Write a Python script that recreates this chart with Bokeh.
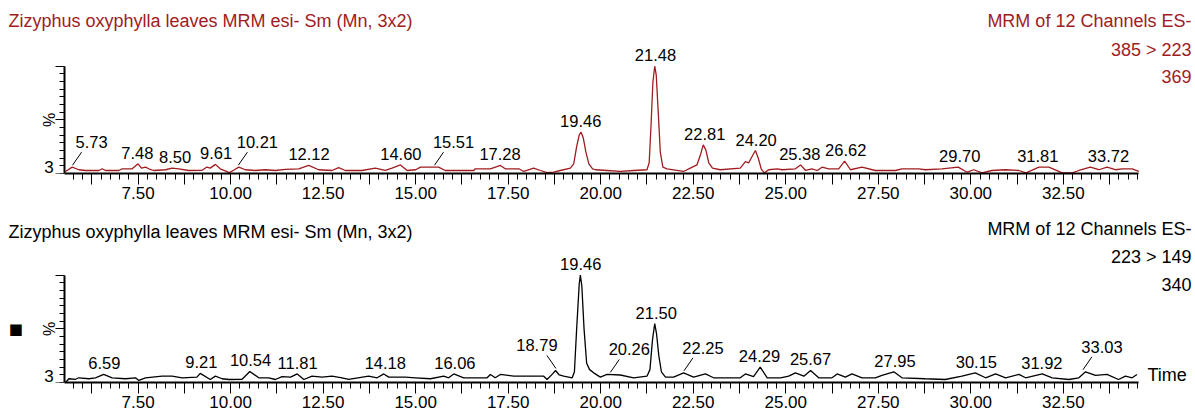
import math
import numpy as np
from bokeh.plotting import figure
from bokeh.models import (Range1d, FixedTicker, CustomJSTickFormatter, Label,
                          LabelSet, ColumnDataSource)
from bokeh.layouts import column
from bokeh.core.properties import value
from bokeh.embed import file_html
from bokeh.resources import INLINE

# ---------------- data ----------------
top_time = [5.54, 5.72, 5.90, 6.08, 6.44, 6.53, 6.62, 6.98, 7.07, 7.34, 7.50, 7.59, 7.70, 7.79, 7.92,
            8.24, 8.42, 8.60, 8.87, 9.23, 9.36, 9.45, 9.59, 9.72, 9.97, 10.08, 10.22, 10.40, 10.67,
            10.94, 11.21, 11.48, 11.84, 12.11, 12.38, 12.74, 12.92, 13.10, 13.55, 13.91, 14.18, 14.36,
            14.59, 14.77, 15.00, 15.13, 15.62, 15.80, 16.57, 16.61, 17.02, 17.29, 17.42, 17.79, 17.92,
            18.19, 18.37, 18.55, 18.73, 18.91, 19.18, 19.27, 19.35, 19.42, 19.47, 19.53, 19.60, 19.68,
            19.78, 19.86, 20.17, 20.53, 20.89, 21.25, 21.31, 21.36, 21.41, 21.46, 21.50, 21.55, 21.61,
            21.68, 21.79, 22.24, 22.42, 22.60, 22.70, 22.77, 22.84, 22.92, 23.02, 23.23, 23.77, 23.91,
            24.00, 24.06, 24.18, 24.26, 24.34, 24.42, 24.54, 24.77, 24.90, 25.26, 25.40, 25.53, 25.71,
            25.85, 25.98, 26.16, 26.43, 26.59, 26.75, 27.06, 27.42, 27.96, 28.14, 28.59, 28.77, 29.22,
            29.66, 29.90, 30.08, 30.30, 30.57, 30.93, 31.30, 31.49, 31.84, 32.11, 32.47, 32.74, 32.92,
            33.23, 33.46, 33.68, 33.91, 34.09, 34.36, 34.54]
top_pct = [1.9, 5.9, 3.5, 2.8, 2.8, 4.4, 2.8, 2.8, 4.4, 4.4, 9.0, 5.0, 5.9, 4.4, 2.8,
           3.5, 5.0, 4.4, 2.8, 3.0, 6.0, 5.0, 8.5, 4.4, 0.8, 3.0, 5.9, 3.5, 2.8,
           3.5, 2.8, 3.8, 4.4, 7.5, 3.5, 2.8, 5.5, 2.8, 2.8, 5.0, 3.0, 5.0,
           8.0, 2.8, 3.5, 5.9, 5.9, 2.8, 2.8, 4.4, 4.4, 7.5, 4.4, 4.4, 1.9,
           5.0, 2.8, 0.8, 1.2, 2.8, 5.0, 9.0, 25.0, 36.0, 38.5, 33.0, 20.0, 9.0,
           4.4, 3.5, 2.8, 2.0, 2.8, 3.5, 10.0, 45.0, 85.0, 100.0, 92.0, 60.0, 20.0,
           6.0, 4.4, 1.9, 5.0, 8.0, 18.0, 26.7, 22.0, 10.0, 5.0, 3.5, 5.0, 11.0,
           10.0, 14.0, 21.4, 14.0, 4.0, 0.6, 3.5, 4.4, 3.5, 4.4, 8.0, 3.0, 4.4,
           2.8, 5.9, 4.4, 4.4, 11.5, 3.5, 5.9, 2.8, 2.8, 4.4, 4.4, 3.5, 4.4,
           5.9, 1.2, 3.5, 0.6, 2.8, 3.5, 2.8, 0.6, 5.9, 5.9, 0.6, 0.6, 2.8,
           5.9, 3.5, 6.0, 3.5, 4.4, 4.4, 1.9]

bottom_time = [5.54, 5.63, 5.81, 5.90, 6.17, 6.35, 6.57, 6.80, 7.16, 7.43, 7.52, 7.70, 8.15, 8.42,
               8.69, 9.09, 9.18, 9.45, 9.59, 9.77, 9.95, 10.31, 10.52, 10.76, 11.03, 11.21, 11.39,
               11.62, 11.80, 11.98, 12.20, 12.47, 12.74, 13.01, 13.19, 13.73, 13.96, 14.14, 14.27,
               14.72, 14.99, 15.40, 15.76, 15.89, 16.03, 16.30, 16.93, 17.02, 17.15, 17.29, 17.65,
               18.46, 18.55, 18.70, 18.78, 18.88, 19.00, 19.23, 19.29, 19.35, 19.42, 19.45, 19.49,
               19.55, 19.62, 19.70, 19.81, 19.99, 20.17, 20.53, 20.89, 21.25, 21.33, 21.40, 21.46,
               21.51, 21.57, 21.64, 21.75, 21.97, 22.24, 22.51, 22.83, 23.05, 23.77, 23.91, 24.13,
               24.31, 24.50, 24.86, 25.08, 25.26, 25.49, 25.67, 25.89, 26.25, 26.39, 26.61, 26.79,
               27.06, 27.42, 27.60, 27.92, 28.14, 28.77, 29.31, 29.76, 30.12, 30.40, 30.67, 30.94,
               31.30, 31.48, 31.93, 32.20, 32.65, 32.92, 33.10, 33.37, 33.68, 33.99, 34.18, 34.36,
               34.49]
bottom_pct = [0.0, 3.5, 3.0, 4.4, 3.5, 4.4, 7.5, 4.4, 3.5, 4.4, 1.9, 4.4, 5.9, 5.9,
              4.4, 5.0, 8.5, 2.8, 5.9, 3.5, 2.8, 3.0, 10.3, 4.4, 4.4, 2.8, 5.5,
              5.0, 8.0, 2.8, 5.9, 5.0, 5.9, 4.4, 3.0, 5.9, 4.4, 8.0, 5.0,
              5.0, 4.4, 3.5, 5.9, 4.4, 8.0, 4.4, 4.4, 7.5, 4.4, 7.5, 5.9,
              5.9, 2.8, 8.0, 11.2, 7.0, 5.9, 4.4, 10.0, 50.0, 92.0, 100.0, 90.0,
              50.0, 18.0, 12.0, 9.0, 5.0, 7.5, 7.0, 4.4, 5.9, 12.0, 40.0, 54.8,
              45.0, 25.0, 10.0, 5.0, 5.0, 9.0, 5.0, 8.0, 4.4, 4.4, 8.0, 5.5,
              14.3, 4.4, 4.4, 5.9, 9.0, 5.9, 11.2, 4.4, 4.4, 8.0, 5.0, 8.0,
              4.4, 4.4, 6.6, 10.0, 4.4, 3.5, 2.8, 5.9, 9.0, 4.4, 8.0, 4.4,
              7.5, 4.4, 8.0, 4.4, 2.8, 4.4, 10.0, 6.6, 7.5, 2.8, 5.9, 4.4,
              7.5]

top_peak_labels = ["5.73", "7.48", "8.50", "9.61", "10.21", "12.12", "14.60", "15.51", "17.28",
                   "19.46", "21.48", "22.81", "24.20", "25.38", "26.62", "29.70", "31.81", "33.72"]
bottom_peak_labels = ["6.59", "9.21", "10.54", "11.81", "14.18", "16.06", "18.79", "19.46", "20.26",
                      "21.50", "22.25", "24.29", "25.67", "27.95", "30.15", "31.92", "33.03"]

panel_title = "Zizyphus oxyphylla leaves MRM esi- Sm (Mn, 3x2)"
top_info = ["MRM of 12 Channels ES-", "385 > 223", "369"]
bottom_info = ["MRM of 12 Channels ES-", "223 > 149", "340"]
y_unit_label = "%"
y_min_label = "3"
x_axis_name = "Time"
x_start, x_end = 5.52, 34.53

# ---------------- style / layout ----------------
FONT = "Liberation Sans"
RED = "#A01C1F"
FIG_W = 1195
AXIS_LEFT_PX = 64.3           # canvas x of the y axis
PPX = 37.01                   # pixels per minute
PPY = 1.073                   # pixels per percent
BELOW = 34                    # room under the frame for the x-axis labels
X_LO = x_start - AXIS_LEFT_PX / PPX
X_HI = X_LO + FIG_W / PPX
top_leaders = {"5.73": 1, "10.21": 1, "15.51": 1}
bottom_leaders = {"18.79": -1, "20.26": 1, "22.25": 1, "33.03": 1}


def peak_height(times, vals, t0):
    t = np.asarray(times)
    v = np.asarray(vals)
    cand = [float(np.interp(t0, t, v))] + list(v[np.abs(t - t0) <= 0.1])
    return max(cand)


def make_panel(times, vals, labels, leaders, line_color, text_color, info, height,
               info_offsets, title_offset, time_label=False, marker=False):
    frame_h = height - BELOW
    p = figure(width=FIG_W, height=height, output_backend="svg", toolbar_location=None,
               x_range=Range1d(X_LO, X_HI), y_range=Range1d(0, frame_h / PPY),
               x_axis_location="below", y_axis_location="right",
               min_border_left=0, min_border_right=0, min_border_top=0,
               min_border_bottom=BELOW)
    p.outline_line_color = None
    p.grid.visible = False
    p.background_fill_color = "white"

    p.line(times, vals, line_color=line_color, line_width=1.3)

    # x axis (frame bottom = 0 %, limited to the data span)
    xa = p.xaxis[0]
    xa.bounds = (x_start, x_end)
    xa.ticker = FixedTicker(ticks=list(np.arange(6.25, 34.6, 1.25)),
                            minor_ticks=list(np.arange(5.75, 34.6, 0.25)))
    xa.formatter = CustomJSTickFormatter(
        code="const r = tick / 2.5; return Math.abs(r - Math.round(r)) < 1e-6 ? tick.toFixed(2) : '';")
    xa.axis_line_width = 2
    xa.axis_line_color = "black"
    xa.major_tick_out = 11
    xa.major_tick_in = 0
    xa.minor_tick_out = 6
    xa.minor_tick_in = 0
    xa.major_tick_line_color = "black"
    xa.minor_tick_line_color = "black"
    xa.major_label_text_font = FONT
    xa.major_label_text_font_size = "17px"
    xa.major_label_text_color = "black"
    xa.major_label_standoff = 2

    # y axis (drawn at x_start, ticks pointing left)
    ya = p.yaxis[0]
    ya.fixed_location = x_start
    ya.bounds = (0, 100)
    ya.ticker = FixedTicker(ticks=[0, 50, 100], minor_ticks=list(np.linspace(0, 100, 15)))
    ya.formatter = CustomJSTickFormatter(code="return '';")
    ya.axis_line_width = 2
    ya.axis_line_color = "black"
    ya.major_tick_out = 0
    ya.major_tick_in = 9
    ya.minor_tick_out = 0
    ya.minor_tick_in = 5
    ya.major_tick_line_color = "black"
    ya.minor_tick_line_color = "black"
    ya.major_label_standoff = 0
    ya.major_label_text_font_size = "1px"

    # peak labels
    lx, ly, lt, xo, yo = [], [], [], [], []
    sx0, sy0, sx1, sy1 = [], [], [], []
    for s in labels:
        t0 = float(s)
        h = peak_height(times, vals, t0)
        lx.append(t0)
        ly.append(h)
        lt.append(s)
        if s in leaders:
            d = leaders[s]
            xo.append(d * 19)
            yo.append(19)
            sx0.append(t0)
            sy0.append(h + 2 / PPY)
            sx1.append(t0 + d * 9 / PPX)
            sy1.append(h + 15 / PPY)
        else:
            xo.append(0)
            yo.append(5)
    src = ColumnDataSource(dict(x=lx, y=ly, text=lt, xo=xo, yo=yo))
    p.add_layout(LabelSet(x="x", y="y", text="text", source=src, x_offset="xo", y_offset="yo",
                          text_align="center", text_baseline="alphabetic",
                          text_font=value(FONT), text_font_size="16.5px", text_color="black"))
    if sx0:
        p.segment(sx0, sy0, sx1, sy1, line_color="black", line_width=1)

    # titles and side texts
    p.add_layout(Label(x=X_LO, y=100, x_offset=8, y_offset=title_offset, text=panel_title,
                       text_align="left", text_baseline="middle", text_font=FONT,
                       text_font_size="18px", text_color=text_color))
    for txt, off in zip(info, info_offsets):
        p.add_layout(Label(x=x_end, y=100, x_offset=53, y_offset=off, text=txt,
                           text_align="right", text_baseline="middle", text_font=FONT,
                           text_font_size="18px", text_color=text_color))
    p.add_layout(Label(x=x_start, y=0, x_offset=-11, y_offset=7, text=y_min_label,
                       text_align="right", text_baseline="middle", text_font=FONT,
                       text_font_size="17px", text_color="black"))
    p.add_layout(Label(x=x_start, y=50, x_offset=-15, text=y_unit_label, angle=math.pi / 2,
                       text_align="center", text_baseline="middle", text_font=FONT,
                       text_font_size="16px", text_color="black"))
    if marker:
        p.add_layout(Label(x=x_start, y=50, x_offset=-49, text="\u25A0",
                           text_align="center", text_baseline="middle", text_font="DejaVu Sans",
                           text_font_size="15px", text_color="black"))
    if time_label:
        p.add_layout(Label(x=x_end, y=0, x_offset=9, y_offset=8, text=x_axis_name,
                           text_align="left", text_baseline="middle", text_font=FONT,
                           text_font_size="18px", text_color="black"))
    return p


p_top = make_panel(top_time, top_pct, top_peak_labels, top_leaders, RED, RED, top_info,
                   height=207, info_offsets=[45, 16, -10], title_offset=45)
p_bot = make_panel(bottom_time, bottom_pct, bottom_peak_labels, bottom_leaders, "black", "black",
                   bottom_info, height=209, info_offsets=[46, 18, -9], title_offset=43,
                   time_label=True, marker=True)

layout = column(p_top, p_bot, spacing=0)
open("out.html", "w").write(file_html(layout, INLINE))
